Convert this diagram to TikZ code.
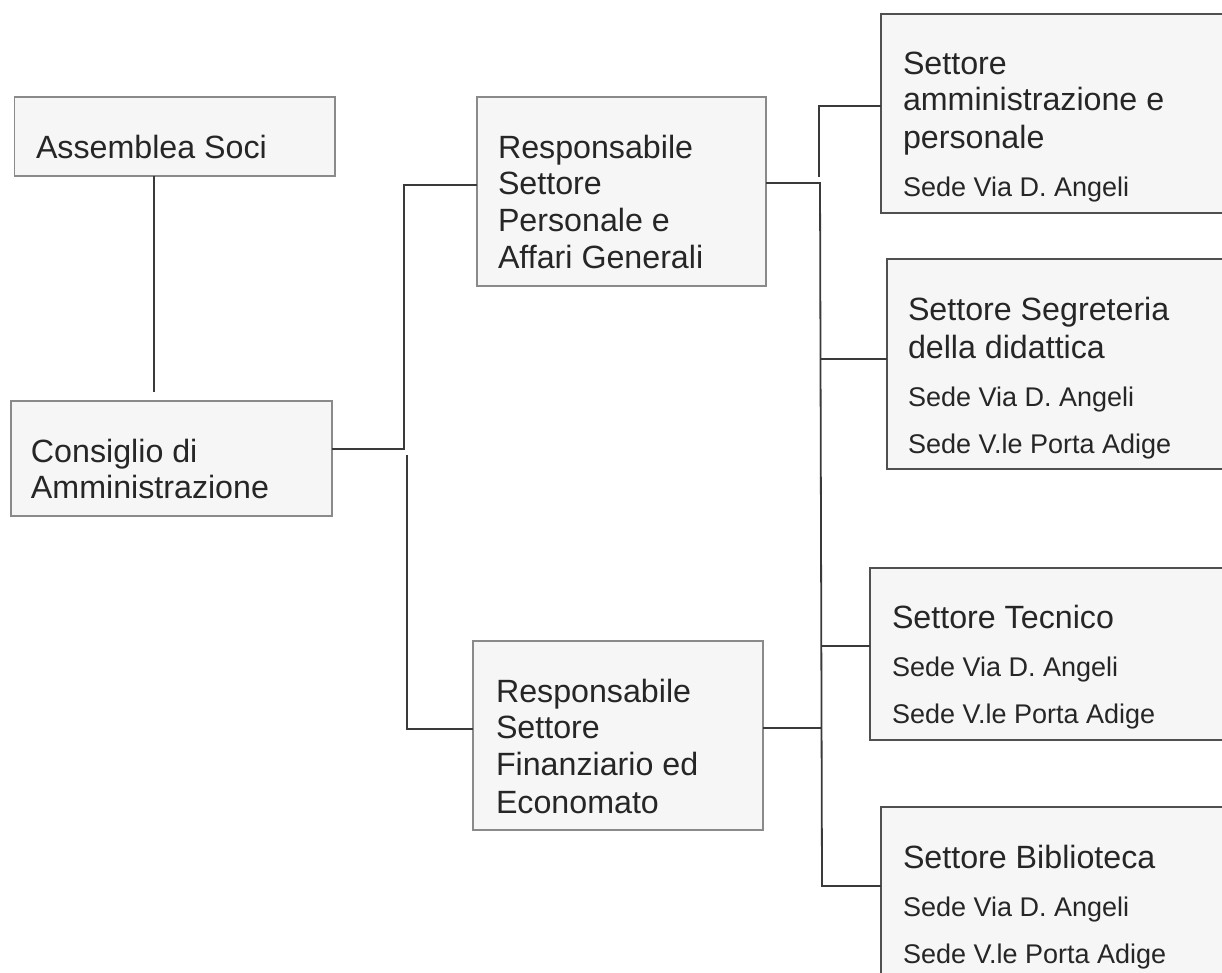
\documentclass[tikz,border=0pt]{standalone}
\usepackage{fontspec}
\setmainfont{Liberation Sans}
\definecolor{boxfill}{HTML}{F6F6F6}
\definecolor{softedge}{HTML}{8A8A8A}
\definecolor{hardedge}{HTML}{505050}
\definecolor{ink}{HTML}{262626}
\definecolor{wire}{HTML}{3A3A3A}
\setlength{\unitlength}{1pt}
% Box body of exact size; text lines are placed by left offset and baseline depth from the top
\newcommand{\boxbody}[3]{\begin{picture}(#1,#2)(0,-#2)#3\end{picture}}
\newcommand{\headln}[3]{\put(#1,-#2){\raisebox{-1.5pt}{\fontsize{32.2}{38}\selectfont\color{ink}#3}}}
\newcommand{\subln}[3]{\put(#1,-#2){\raisebox{-1.5pt}{\fontsize{27}{32}\selectfont\color{ink}#3}}}
\tikzset{
  softbox/.style={draw=softedge,line width=1.5pt,fill=boxfill,inner sep=0pt,outer sep=0pt,anchor=north west},
  hardbox/.style={draw=hardedge,line width=2pt,fill=boxfill,inner sep=0pt,outer sep=0pt,anchor=north west},
  wireline/.style={draw=wire,line width=1.8pt}
}
\begin{document}
\begin{tikzpicture}[x=1pt,y=-1pt]
\useasboundingbox (0,0) rectangle (1222,973);
\clip (0,0) rectangle (1222,973);
\fill[white] (0,0) rectangle (1222,973);
% free ends and junctions
\coordinate (acEnd) at (154,392);
\coordinate (busA) at (404,449);
\coordinate (busAtop) at (404,185);
\coordinate (busB) at (407,455);
\coordinate (busBbot) at (407,729);
\coordinate (r1out) at (820,183);
\coordinate (upperEnd) at (819,177);
\coordinate (upperTop) at (819,106);
\coordinate (busS2) at (821,359);
\coordinate (busS3) at (822,646);
\coordinate (busR2) at (822,728);
\coordinate (busBot) at (822,886);
% left column
\node[softbox] (A) at (14.5,97) {\boxbody{320.5}{79}{\headln{21.5}{60}{Assemblea Soci}}};
\node[softbox] (C) at (11,401) {\boxbody{321}{115}{\headln{20}{60}{Consiglio di}\headln{20}{96}{Amministrazione}}};
% middle column
\node[softbox] (R1) at (477,97) {\boxbody{289}{189}{\headln{21}{60}{Responsabile}\headln{21}{96}{Settore}\headln{21}{133}{Personale e}\headln{21}{170}{Affari Generali}}};
\node[softbox] (R2) at (473,641) {\boxbody{290}{189}{\headln{23}{60}{Responsabile}\headln{23}{96}{Settore}\headln{23}{133}{Finanziario ed}\headln{23}{171}{Economato}}};
% right column (boxes run off the sheet)
\node[hardbox] (S1) at (881,14) {\boxbody{360}{199}{\headln{22}{59}{Settore}\headln{22}{95}{amministrazione e}\headln{22}{133}{personale}\subln{22}{181}{Sede Via D. Angeli}}};
\node[hardbox] (S2) at (887,259) {\boxbody{360}{210}{\headln{21}{60}{Settore Segreteria}\headln{21}{98}{della didattica}\subln{21}{146}{Sede Via D. Angeli}\subln{21}{193}{Sede V.le Porta Adige}}};
\node[hardbox] (S3) at (870,568) {\boxbody{370}{172}{\headln{22}{59}{Settore Tecnico}\subln{22}{107}{Sede Via D. Angeli}\subln{22}{154}{Sede V.le Porta Adige}}};
\node[hardbox] (S4) at (881,807) {\boxbody{360}{190}{\headln{22}{60}{Settore Biblioteca}\subln{22}{108}{Sede Via D. Angeli}\subln{22}{155}{Sede V.le Porta Adige}}};
% connectors
\draw[wireline] (A.south -| acEnd) -- (acEnd);
\draw[wireline] (C.east |- busA) -- (busA) -- (busAtop) -- (R1.west |- busAtop);
\draw[wireline] (busB) -- (busBbot) -- (R2.west |- busBbot);
\draw[wireline] (R1.east |- r1out) -- (r1out) -- (busBot) -- (S4.west |- busBot);
\draw[wireline] (upperEnd) -- (upperTop) -- (S1.west |- upperTop);
\draw[wireline] (busS2) -- (S2.west |- busS2);
\draw[wireline] (busS3) -- (S3.west |- busS3);
\draw[wireline] (R2.east |- busR2) -- (busR2);
\end{tikzpicture}
\end{document}
